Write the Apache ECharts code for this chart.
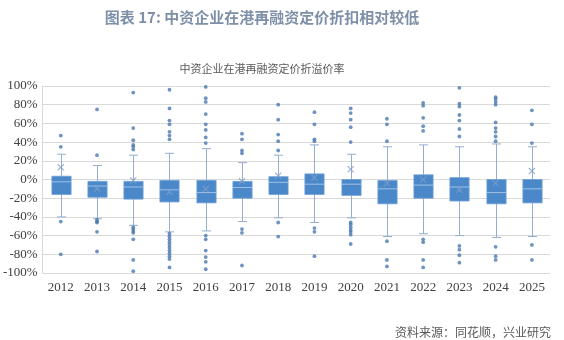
<!DOCTYPE html>
<html>
<head>
<meta charset="utf-8">
<script src="https://cdn.jsdelivr.net/npm/echarts@6/dist/echarts.min.js"></script>
<style>
  html, body { margin: 0; padding: 0; background: #fff; }
  #chart { width: 564px; height: 340px; }
</style>
</head>
<body>
<div id="chart"></div>
<script>
// Years on the category axis
const years = ['2012','2013','2014','2015','2016','2017','2018','2019','2020','2021','2022','2023','2024','2025'];

// Box statistics per year (premium/discount rate, %)
const whiskerLow  = [-40, -42, -49, -56, -55, -45, -41, -46, -41, -61, -58, -60, -62, -61];
const q1          = [-16, -19, -21, -24, -25, -20, -16, -16, -17, -26, -20, -23, -26, -25];
const median      = [-2.5, -7, -8, -11, -14, -8.6, -3, -5, -5, -10, -6, -8, -14, -10];
const q3          = [3.5, -2, -2, -1, -1, -2, 3, 6, 0, -1, 5, 2, 0, 0];
const whiskerHigh = [27, 15, 26, 28, 33, 18, 26, 37, 27, 35, 37, 35, 38, 35];
const means       = [13, -10, -1, -13, -10, -2, 4, 2, 11, -4, 0, -11, -4, 9];

// Points beyond the whiskers, per year
const outliers = [
  [47, 35, -45, -80],
  [75, 26, -43, -45, -46, -56, -77],
  [93, 55, 42, 37, 35, 32, -51, -53, -55, -57, -64, -86, -98],
  [96, 76, 63, 59, 51, 47, 43, -58, -61, -64, -67, -70, -73, -76, -79, -82, -85, -94],
  [99, 87, 83, 70, 59, 53, 45, 39, -60, -64, -76, -83, -88, -96],
  [49, 43, 31, 28, -53, -57, -92],
  [80, 64, 48, 41, 31, -46, -61],
  [72, 59, 43, 41, -52, -56, -82],
  [76, 71, 64, 56, 40, -46, -48, -51, -54, -56, -59, -69],
  [65, 59, 41, -66, -86, -93],
  [82, 79, 66, 57, 52, -64, -67, -86, -94],
  [98, 81, 78, 69, 63, 54, 46, -71, -75, -81, -89],
  [88, 86, 83, 80, 61, 55, 51, 46, 41, -72, -82, -86],
  [74, 59, 39, -70, -86]
];

// Y axis ticks
const yMin = -100, yMax = 100, yStep = 20;

const boxData = years.map((y, i) => [i, whiskerLow[i], q1[i], median[i], q3[i], whiskerHigh[i]]);
const meanData = years.map((y, i) => [i, means[i]]);
const outlierData = [];
outliers.forEach((list, i) => list.forEach(v => outlierData.push([i, v])));

const BOX_FILL = '#4a88c9';
const WHISKER = '#93aed0';
const MEDIAN = '#9fc0e6';

function renderBox(params, api) {
  const x = api.value(0);
  const lo = api.coord([x, api.value(1)]);
  const b1 = api.coord([x, api.value(2)]);
  const md = api.coord([x, api.value(3)]);
  const b3 = api.coord([x, api.value(4)]);
  const hi = api.coord([x, api.value(5)]);
  const band = api.size([1, 0])[0];
  const w = band * 0.53;
  const cap = 4.5;
  const cx = Math.round(lo[0]) + 0.5;
  const ls = { stroke: WHISKER, lineWidth: 1 };
  return {
    type: 'group',
    children: [
      { type: 'line', shape: { x1: cx, y1: hi[1], x2: cx, y2: b3[1] }, style: ls },
      { type: 'line', shape: { x1: cx, y1: b1[1], x2: cx, y2: lo[1] }, style: ls },
      { type: 'line', shape: { x1: cx - cap, y1: hi[1], x2: cx + cap, y2: hi[1] }, style: ls },
      { type: 'line', shape: { x1: cx - cap, y1: lo[1], x2: cx + cap, y2: lo[1] }, style: ls },
      { type: 'rect', shape: { x: cx - w / 2, y: b3[1], width: w, height: b1[1] - b3[1] },
        style: { fill: BOX_FILL, stroke: '#6f9fd4', lineWidth: 0.8 } },
      { type: 'line', shape: { x1: cx - w / 2, y1: md[1], x2: cx + w / 2, y2: md[1] },
        style: { stroke: MEDIAN, lineWidth: 1 } }
    ]
  };
}

const chart = echarts.init(document.getElementById('chart'), null, { renderer: 'canvas' });
chart.setOption({
  backgroundColor: '#ffffff',
  animation: false,
  title: [
    {
      text: '图表 17: 中资企业在港再融资定价折扣相对较低',
      left: 257, top: 5, textAlign: 'center',
      textStyle: { fontFamily: 'Noto Sans CJK SC', fontSize: 15, fontWeight: 'bold', color: '#7e90a8' }
    },
    {
      text: '中资企业在港再融资定价折溢价率',
      left: 257, top: 58, textAlign: 'center',
      textStyle: { fontFamily: 'Noto Sans CJK SC', fontSize: 11, fontWeight: 'normal', color: '#595959' }
    },
    {
      text: '资料来源：同花顺，兴业研究',
      right: 8, top: 321,
      textStyle: { fontFamily: 'Noto Sans CJK SC', fontSize: 12, fontWeight: 'normal', color: '#595959' }
    }
  ],
  grid: { left: 42, right: 14, top: 86, bottom: 67 },
  xAxis: {
    type: 'category',
    data: years,
    boundaryGap: true,
    axisLine: { show: false },
    axisTick: { show: false },
    axisLabel: { fontFamily: 'Liberation Serif', fontSize: 13, color: '#404040', margin: 8 }
  },
  yAxis: {
    type: 'value',
    min: yMin, max: yMax, interval: yStep,
    axisLine: { show: true, lineStyle: { color: '#d9d9d9' } },
    axisTick: { show: false },
    splitLine: { lineStyle: { color: '#d9d9d9', width: 1 } },
    axisLabel: { fontFamily: 'Liberation Serif', fontSize: 13, color: '#404040', margin: 5,
      formatter: v => v + '%' }
  },
  series: [
    {
      type: 'custom',
      renderItem: renderBox,
      data: boxData,
      encode: { x: 0, y: [1, 2, 3, 4, 5] },
      z: 2
    },
    {
      type: 'scatter',
      data: outlierData,
      symbol: 'circle',
      symbolSize: 3.8,
      itemStyle: { color: '#4a78b0' },
      z: 3
    },
    {
      type: 'scatter',
      data: meanData,
      symbol: 'path://M0,1.2L1.2,0L5,3.8L8.8,0L10,1.2L6.2,5L10,8.8L8.8,10L5,6.2L1.2,10L0,8.8L3.8,5Z',
      symbolSize: 7,
      itemStyle: { color: '#7f9fc8' },
      z: 4
    }
  ]
});
</script>
</body>
</html>
